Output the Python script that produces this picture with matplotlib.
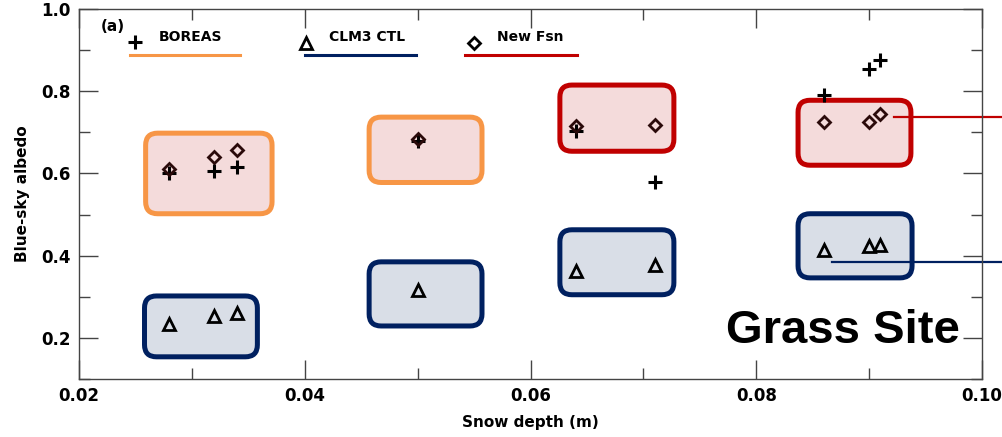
import matplotlib
matplotlib.use("Agg")
import matplotlib.pyplot as plt
from matplotlib.patches import FancyBboxPatch
from matplotlib.ticker import MultipleLocator

# Snow depth (m) and blue-sky albedo for each series
boreas_x = [0.028, 0.032, 0.034, 0.050, 0.064, 0.071, 0.086, 0.090, 0.091]
boreas_y = [0.600, 0.605, 0.615, 0.680, 0.703, 0.578, 0.790, 0.854, 0.875]

clm3_x = [0.028, 0.032, 0.034, 0.050, 0.064, 0.071, 0.086, 0.090, 0.091]
clm3_y = [0.234, 0.254, 0.261, 0.317, 0.363, 0.378, 0.415, 0.424, 0.427]

newfsn_x = [0.028, 0.032, 0.034, 0.050, 0.064, 0.071, 0.086, 0.090, 0.091]
newfsn_y = [0.610, 0.639, 0.656, 0.683, 0.716, 0.717, 0.724, 0.724, 0.744]

# highlight boxes: (x0, x1, y0, y1, edge colour, fill colour)
boxes = [
    (0.0259, 0.0371, 0.502, 0.698, "#f79646", "#f4dbdb"),
    (0.0457, 0.0557, 0.578, 0.737, "#f79646", "#f4dbdb"),
    (0.0626, 0.0727, 0.654, 0.815, "#c00000", "#f4dbdb"),
    (0.0837, 0.0937, 0.620, 0.778, "#c00000", "#f4dbdb"),
    (0.0258, 0.0358, 0.154, 0.302, "#002060", "#d9dee7"),
    (0.0457, 0.0557, 0.229, 0.385, "#002060", "#d9dee7"),
    (0.0626, 0.0727, 0.305, 0.463, "#002060", "#d9dee7"),
    (0.0837, 0.0938, 0.346, 0.502, "#002060", "#d9dee7"),
]

xlim = (0.02, 0.10)
ylim = (0.1, 1.0)

fig = plt.figure(figsize=(10.03, 4.37), dpi=100)
ax = fig.add_axes([0.0788, 0.1327, 0.9003, 0.8467])
ax.set_xlim(*xlim)
ax.set_ylim(*ylim)

# aspect to keep box corners round in screen space
ax_w = 0.9003 * 1003
ax_h = 0.8467 * 437
aspect = ((ylim[1] - ylim[0]) / ax_h) / ((xlim[1] - xlim[0]) / ax_w)
r = 12 * (xlim[1] - xlim[0]) / ax_w

for x0, x1, y0, y1, ec, fc in boxes:
    ax.add_patch(FancyBboxPatch((x0, y0), x1 - x0, y1 - y0,
                                boxstyle=f"round,pad=0,rounding_size={r}",
                                mutation_aspect=aspect, fc=fc, ec=ec,
                                lw=3.6, zorder=1))

# connector lines running off the right edge
ax.plot([0.0922, 0.1018], [0.737, 0.737], color="#c00000", lw=1.6,
        clip_on=False, zorder=2)
ax.plot([0.0867, 0.1018], [0.385, 0.385], color="#002060", lw=1.6,
        clip_on=False, zorder=2)

ax.plot(boreas_x, boreas_y, ls="none", marker="+", ms=10, mew=2.2,
        color="black", zorder=3)
ax.plot(clm3_x, clm3_y, ls="none", marker="^", ms=8, mew=2.0,
        mfc="none", mec="black", zorder=3)
ax.plot(newfsn_x, newfsn_y, ls="none", marker="D", ms=6.5, mew=2.0,
        mfc="none", mec="#2a0a0a", zorder=3)

# hand-drawn legend
leg = [
    ("+", "BOREAS", "#f79646", 0.062, 0.0565, 0.178),
    ("^", "CLM3 CTL", "#002060", 0.251, 0.250, 0.373),
    ("D", "New Fsn", "#c00000", 0.437, 0.427, 0.551),
]
for mk, label, col, mx, lx0, lx1 in leg:
    if mk == "+":
        ax.plot(mx, 0.91, marker=mk, ms=10, mew=2.2, color="black",
                transform=ax.transAxes)
    else:
        ax.plot(mx, 0.907, marker=mk, ms=8 if mk == "^" else 6.5, mew=2.0,
                mfc="none", mec="black", transform=ax.transAxes)
    ax.plot([lx0, lx1], [0.877, 0.877], color=col, lw=2.2,
            transform=ax.transAxes)
    ax.text(mx + 0.026, 0.925, label, transform=ax.transAxes,
            fontsize=10, fontweight="bold", va="center", ha="left")

ax.text(0.024, 0.952, "(a)", transform=ax.transAxes, fontsize=11,
        fontweight="bold", va="center", ha="left")

ax.text(0.976, 0.13, "Grass Site", transform=ax.transAxes,
        family="Liberation Sans", fontsize=34, fontweight="bold",
        ha="right", va="center")

ax.set_xticks([0.02, 0.04, 0.06, 0.08, 0.10])
ax.set_xticklabels(["0.02", "0.04", "0.06", "0.08", "0.10"])
ax.set_yticks([0.2, 0.4, 0.6, 0.8, 1.0])
ax.set_yticklabels(["0.2", "0.4", "0.6", "0.8", "1.0"])
ax.xaxis.set_minor_locator(MultipleLocator(0.01))
ax.yaxis.set_minor_locator(MultipleLocator(0.1))
ax.tick_params(which="both", direction="in", top=True, right=True,
               color="#444444", width=1.0)
ax.tick_params(which="major", length=14, labelsize=12, pad=6)
ax.tick_params(which="minor", length=8)
for lab in ax.get_xticklabels() + ax.get_yticklabels():
    lab.set_fontweight("bold")
for sp in ax.spines.values():
    sp.set_color("#444444")
    sp.set_linewidth(1.0)

ax.set_xlabel("Snow depth (m)", fontsize=11, fontweight="bold", labelpad=7)
ax.set_ylabel("Blue-sky albedo", fontsize=11, fontweight="bold", labelpad=8)

fig.savefig("out.png", dpi=100)
